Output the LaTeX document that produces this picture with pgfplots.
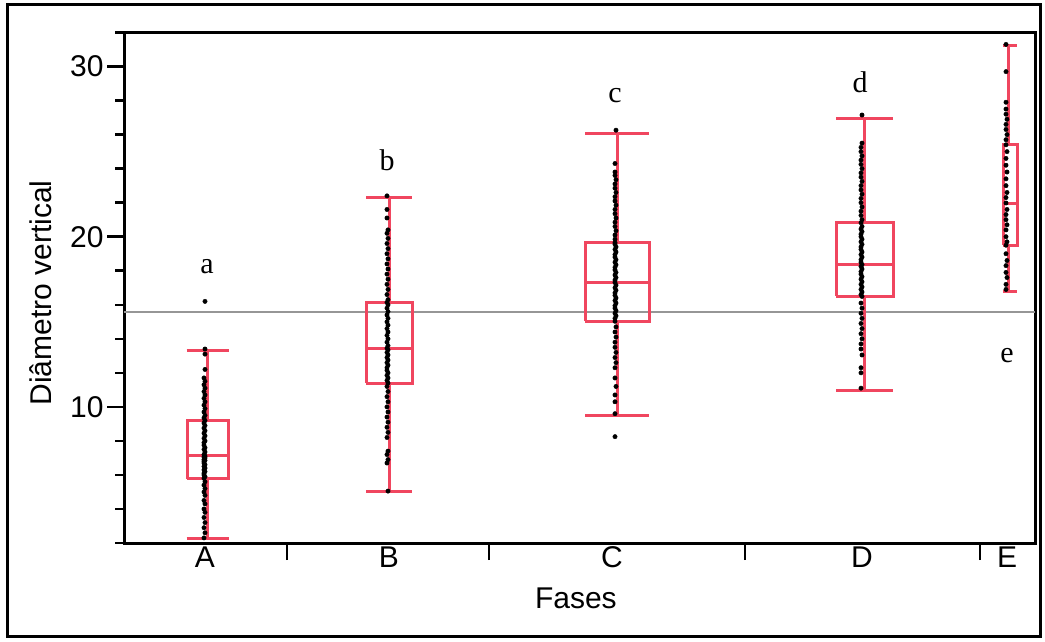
\documentclass[border=0pt]{standalone}
\usepackage{fontspec}
\setmainfont{Liberation Sans}
\newfontfamily\serif{Liberation Serif}
\usepackage{pgfplots}
\pgfplotsset{compat=1.18}

\definecolor{boxred}{RGB}{240,70,95}
\definecolor{meangray}{RGB}{150,150,150}

\begin{document}
\begin{tikzpicture}
\useasboundingbox (0pt,0pt) rectangle (1045pt,641pt);
\draw[line width=3pt] (7pt,5pt) rectangle (1040pt,636pt);
\begin{axis}[
    at={(124pt,98pt)}, anchor=south west,
    scale only axis,
    width=911pt, height=510.5pt,
    xmin=124, xmax=1035,
    ymin=2, ymax=32,
    axis line style={line width=3pt},
    tick style={line width=2.5pt, black},
    tick align=outside,
    tick pos=left,
    major tick length=17pt,
    minor tick length=9pt,
    ytick={10,20,30},
    minor ytick={2,4,6,8,12,14,16,18,22,24,26,28,32},
    xtick={287,489,745,980},
    xticklabels={},
    extra x ticks={205,389,612,862,1007},
    extra x tick labels={A,B,C,D,E},
    extra x tick style={major tick length=0pt},
    /pgf/number format/assume math mode=true,
    tick label style={font=\fontsize{30}{36}\selectfont},
    xlabel={Fases},
    ylabel={Diâmetro vertical},
    label style={font=\fontsize{30}{36}\selectfont},
    xlabel style={at={(axis description cs:0.496,-0.1077)}, anchor=center},
    ylabel style={at={(axis description cs:-0.0911,0.49)}, anchor=center},
    unbounded coords=jump,
    clip=false,
]
% overall mean
\addplot[meangray, line width=2.5pt] coordinates {(124,15.57)(1035,15.57)};

% group boxes: box, median, whiskers with caps
\addplot[boxred, line width=3pt] coordinates {
(187,5.79)(228,5.79)(228,9.18)(187,9.18)(187,5.79) (0,nan) (187,7.13)(228,7.13) (0,nan)
(207.5,9.18)(207.5,13.33) (0,nan) (186.5,13.33)(228.5,13.33) (0,nan)
(207.5,5.79)(207.5,2.28) (0,nan) (186.5,2.28)(228.5,2.28)};
\addplot[boxred, line width=3pt] coordinates {
(366,11.4)(412,11.4)(412,16.14)(366,16.14)(366,11.4) (0,nan) (366,13.45)(412,13.45) (0,nan)
(389,16.14)(389,22.28) (0,nan) (366,22.28)(412,22.28) (0,nan)
(389,11.4)(389,5.03) (0,nan) (366,5.03)(412,5.03)};
\addplot[boxred, line width=3pt] coordinates {
(585,15.03)(649,15.03)(649,19.65)(585,19.65)(585,15.03) (0,nan) (585,17.31)(649,17.31) (0,nan)
(617,19.65)(617,26.08) (0,nan) (585,26.08)(649,26.08) (0,nan)
(617,15.03)(617,9.47) (0,nan) (585,9.47)(649,9.47)};
\addplot[boxred, line width=3pt] coordinates {
(836,16.49)(893,16.49)(893,20.82)(836,20.82)(836,16.49) (0,nan) (836,18.36)(893,18.36) (0,nan)
(864,20.82)(864,26.96) (0,nan) (836,26.96)(893,26.96) (0,nan)
(864,16.49)(864,10.94) (0,nan) (836,10.94)(893,10.94)};
\addplot[boxred, line width=3pt] coordinates {
(1003,19.5)(1017,19.5)(1017,25.44)(1003,25.44)(1003,19.5) (0,nan) (1003,21.98)(1017,21.98) (0,nan)
(1008,25.44)(1008,31.26) (0,nan) (1003,31.26)(1017,31.26) (0,nan)
(1008,19.5)(1008,16.8) (0,nan) (1003,16.8)(1017,16.8)};

% individual observations
\addplot[only marks, mark=*, mark size=2.2pt, black] coordinates {
(204,2.3)(205,2.6)(204,2.9)(205,3.2)(204,3.5)(205,3.8)(204,4.0)(205,4.3)(204,4.5)(205,4.8)
(204,5.0)(205,5.2)(204,5.4)(205,5.6)(204,5.8)(205,5.9)(204,6.0)(204,6.1)(205,6.2)(204,6.3)
(205,6.4)(204,6.5)(205,6.6)(204,6.7)(204,6.8)(205,6.85)(204,6.9)(205,7.0)(204,7.05)(205,7.1)
(204,7.2)(205,7.35)(204,7.5)(205,7.6)(204,7.75)(204,7.9)(205,8.0)(204,8.15)(205,8.3)(204,8.45)
(205,8.6)(204,8.75)(205,8.9)(204,9.05)(205,9.2)(204,9.35)(205,9.5)(204,9.7)(205,9.9)(204,10.1)
(205,10.3)(204,10.5)(205,10.7)(204,10.9)(205,11.1)(204,11.3)(205,11.5)(204,11.7)(205,12.2)
(205,13.1)(205,13.4)(205,16.2)
};
\addplot[only marks, mark=*, mark size=2.2pt, black] coordinates {
(388,5.05)(387,6.7)(388,6.9)(387,7.2)(388,7.4)(387,8.2)(388,8.5)(387,8.8)(388,9.1)(387,9.4)
(388,9.7)(387,10.0)(388,10.3)(387,10.6)(388,10.9)(387,11.2)(388,11.4)(387,11.55)(388,11.7)
(387,11.85)(388,12.0)(387,12.15)(387,12.3)(388,12.45)(387,12.6)(388,12.75)(387,12.9)(388,13.05)
(387,13.2)(388,13.35)(387,13.45)(388,13.6)(387,13.8)(388,14.0)(387,14.2)(388,14.4)(387,14.6)
(388,14.8)(387,15.0)(388,15.2)(387,15.4)(388,15.6)(387,15.8)(388,16.0)(387,16.14)(388,16.3)
(387,16.6)(388,16.9)(387,17.2)(388,17.5)(387,17.8)(388,18.1)(387,18.4)(388,18.7)(387,19.0)
(388,19.3)(387,19.6)(388,19.9)(387,20.2)(388,20.4)(387,21.1)(387,21.6)(387,22.4)
};
\addplot[only marks, mark=*, mark size=2.2pt, black] coordinates {
(615,8.25)(615,9.6)(615,10.3)(615,10.7)(616,11.2)(615,11.7)(615,12.3)(616,12.6)(615,12.9)
(616,13.2)(615,13.5)(615,13.8)(616,14.1)(615,14.4)(616,14.7)(615,15.03)(615,15.2)(616,15.35)
(615,15.5)(616,15.65)(615,15.8)(615,15.95)(616,16.1)(615,16.25)(616,16.4)(615,16.55)(615,16.7)
(616,16.85)(615,17.0)(616,17.15)(615,17.31)(615,17.45)(616,17.6)(615,17.75)(616,17.9)(615,18.05)
(615,18.2)(616,18.35)(615,18.5)(616,18.65)(615,18.8)(615,18.95)(616,19.1)(615,19.25)(616,19.4)
(615,19.55)(615,19.65)(615,19.85)(615,20.1)(616,20.35)(615,20.6)(615,20.85)(616,21.1)(615,21.35)
(615,21.6)(616,21.85)(615,22.1)(615,22.35)(616,22.6)(615,22.85)(615,23.1)(616,23.35)(615,23.6)
(615,23.8)(615,24.3)(616,26.26)
};
\addplot[only marks, mark=*, mark size=2.2pt, black] coordinates {
(861,11.1)(861,12.0)(861,12.3)(862,13.05)(861,13.4)(861,13.7)(862,14.0)(861,14.3)(862,14.6)
(861,14.9)(862,15.2)(861,15.5)(862,15.8)(861,16.1)(862,16.49)(861,16.6)(862,16.75)(861,16.9)
(862,17.05)(861,17.2)(862,17.35)(861,17.5)(862,17.65)(861,17.8)(861,17.95)(862,18.1)(861,18.25)
(862,18.36)(861,18.5)(861,18.65)(862,18.8)(861,18.95)(862,19.1)(861,19.25)(861,19.4)(862,19.55)
(861,19.7)(862,19.85)(861,20.0)(861,20.15)(862,20.3)(861,20.45)(862,20.6)(861,20.82)(862,21.0)
(861,21.25)(861,21.5)(862,21.75)(861,22.0)(861,22.25)(862,22.5)(861,22.75)(861,23.0)(862,23.25)
(861,23.5)(861,23.75)(862,24.0)(861,24.25)(861,24.5)(862,24.75)(861,25.0)(861,25.25)(862,25.5)
(862,27.15)
};
\addplot[only marks, mark=*, mark size=2.2pt, black] coordinates {
(1006,16.9)(1006,17.2)(1007,17.6)(1006,17.9)(1006,18.3)(1007,18.6)(1006,19.0)(1006,19.5)
(1007,19.7)(1006,20.0)(1006,20.4)(1007,20.7)(1006,21.0)(1006,21.3)(1007,21.6)(1006,21.98)
(1006,22.3)(1007,22.6)(1006,23.0)(1006,23.4)(1007,23.8)(1006,24.2)(1006,24.6)(1007,25.0)
(1006,25.4)(1006,25.7)(1007,26.0)(1006,26.3)(1006,26.6)(1007,26.9)(1006,27.2)(1006,27.5)
(1006,27.9)(1006,29.7)(1006,31.3)
};

% group letters
\node[font=\serif\fontsize{30}{36}\selectfont] at (axis cs:207,18.27) {a};
\node[font=\serif\fontsize{30}{36}\selectfont] at (axis cs:387,24.5) {b};
\node[font=\serif\fontsize{30}{36}\selectfont] at (axis cs:615,28.32) {c};
\node[font=\serif\fontsize{30}{36}\selectfont] at (axis cs:860,29.08) {d};
\node[font=\serif\fontsize{30}{36}\selectfont] at (axis cs:1007,13.04) {e};
\end{axis}
\end{tikzpicture}
\end{document}
